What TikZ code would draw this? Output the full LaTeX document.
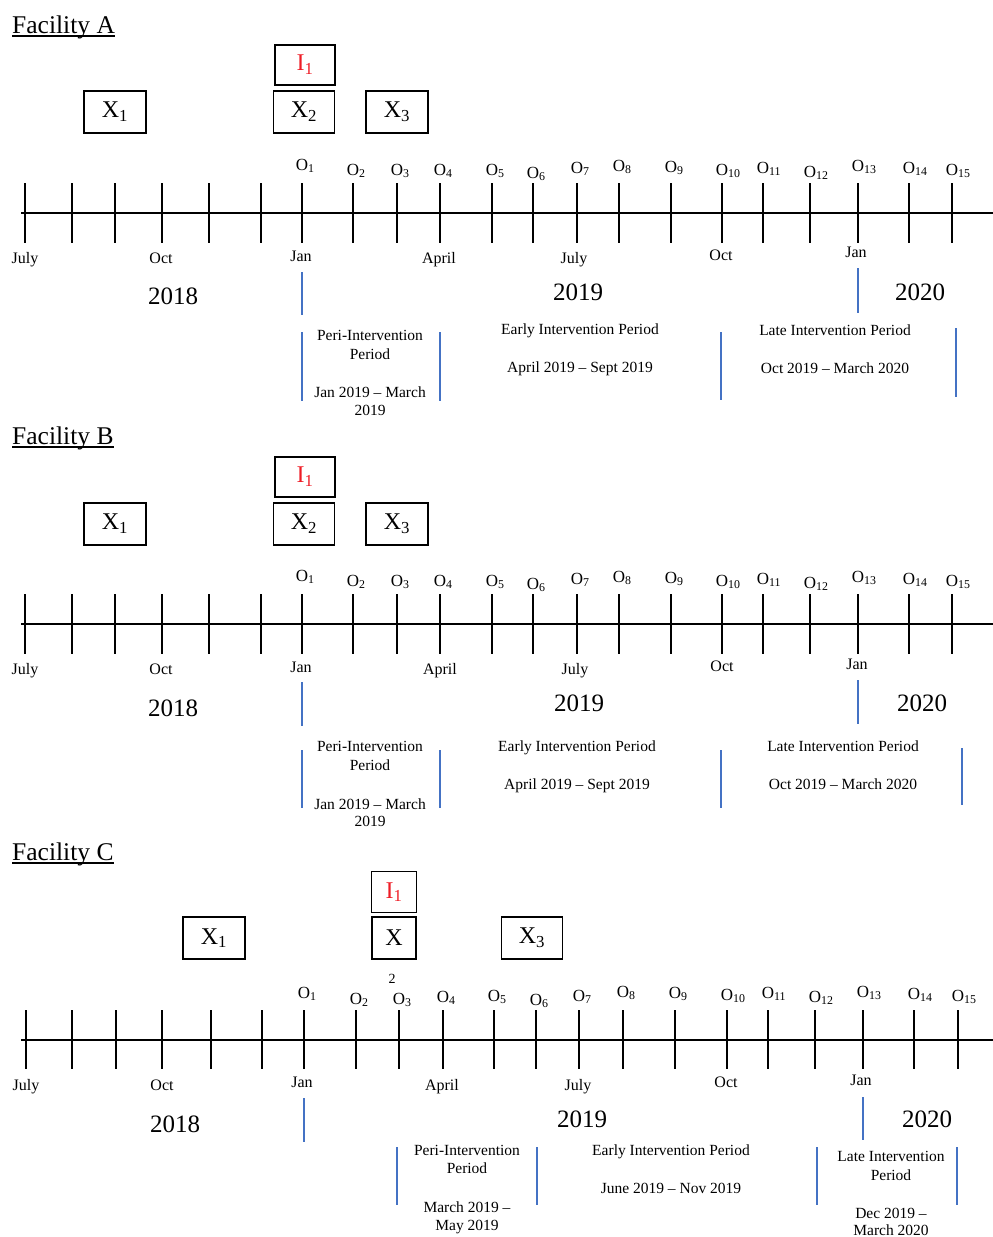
\documentclass[tikz,border=0pt]{standalone}
\usepackage{fontspec}
\setmainfont{Liberation Serif}
\usetikzlibrary{positioning}
\definecolor{perblue}{HTML}{4472C4}
\definecolor{ired}{HTML}{EE1C25}

\begin{document}
\begin{tikzpicture}[x=1pt,y=-1pt]
	\tikzset{
		axisline/.style={line width=1.3pt},
		tickmark/.style={line width=1.3pt},
		evbox/.style={draw, line width=1.4pt, minimum width=62pt, minimum height=42pt, inner sep=0pt, font=\fontsize{24}{28}\selectfont},
		obslbl/.style={anchor=base, inner sep=0pt, font=\fontsize{17}{19}\selectfont},
		monthlbl/.style={anchor=base, inner sep=0pt, font=\fontsize{16}{18}\selectfont},
		yearlbl/.style={anchor=base, inner sep=0pt, font=\fontsize{25}{28}\selectfont},
		periodtxt/.style={anchor=base, inner sep=0pt, font=\fontsize{15.5}{18}\selectfont},
		blueline/.style={perblue, line width=2.4pt},
		janline/.style={perblue, line width=1.2pt},
		facility/.style={anchor=base west, inner sep=0pt, font=\fontsize{25.5}{28}\selectfont},
		uline/.style={line width=1.6pt}
	}
	\useasboundingbox (0,0) rectangle (993,1237);

	% ---------- Facility A ----------
	\node [facility] (titA) at (12,33) {Facility A};
	\draw [uline] ([yshift=-3pt]titA.base west) -- ([yshift=-3pt]titA.base east);
	\node [evbox, minimum width=60pt, minimum height=40pt, text=ired] (iA) at (305,65) {I\textsubscript{1}};
	\node [evbox] (xoneA) at (115,112) {X\textsubscript{1}};
	\node [evbox, minimum width=61pt] (xtwoA) at (304,112) {X\textsubscript{2}};
	\node [evbox] (xthreeA) at (397,112) {X\textsubscript{3}};
	\draw [axisline] (21,213) -- (993,213);
	\foreach \x in {25,72,115,162,209,261,302,353,397,440,492,533,577,619,671,722,763,810,858,909,952}
		\draw [tickmark] (\x,183) -- (\x,243);
	\foreach \i/\x/\y in {1/302/170,2/353/175,3/397/175,4/440/175,5/492/175,6/533/178,7/577/173,8/619/171,9/671/172,10/722/175,11/763/173,12/810/177,13/858/171,14/909/173,15/952/175}
		\node [obslbl] (oA\i) at (\x,\y) {O\rlap{\textsubscript{\i}}};
	\node [monthlbl] (mA1) at (25,263) {July};
	\node [monthlbl] (mA2) at (161,263) {Oct};
	\node [monthlbl] (mA3) at (301,261) {Jan};
	\node [monthlbl] (mA4) at (439,263) {April};
	\node [monthlbl] (mA5) at (574,263) {July};
	\node [monthlbl] (mA6) at (721,260) {Oct};
	\node [monthlbl] (mA7) at (856,257) {Jan};
	\node [yearlbl] (yA1) at (173,304) {2018};
	\node [yearlbl] (yA2) at (578,300) {2019};
	\node [yearlbl] (yA3) at (920,300) {2020};
	\draw [janline] (302,272) -- (302,315);
	\draw [janline] (858,268) -- (858,313);
	\draw [blueline] (302,332) -- (302,401);
	\draw [blueline] (440,332) -- (440,401);
	\draw [blueline] (721,332) -- (721,400);
	\draw [blueline] (956,328) -- (956,397);
	\node [periodtxt] (pA1) at (370,340) {Peri-Intervention};
	\node [periodtxt] (pA2) at (370,359) {Period};
	\node [periodtxt] (pA3) at (370,397) {Jan 2019 -- March};
	\node [periodtxt] (pA4) at (370,415) {2019};
	\node [periodtxt] (eA1) at (580,334) {Early Intervention Period};
	\node [periodtxt] (eA2) at (580,372) {April 2019 -- Sept 2019};
	\node [periodtxt] (lA1) at (835,335) {Late Intervention Period};
	\node [periodtxt] (lA2) at (835,373) {Oct 2019 -- March 2020};

	% ---------- Facility B ----------
	\node [facility] (titB) at (12,444) {Facility B};
	\draw [uline] ([yshift=-3pt]titB.base west) -- ([yshift=-3pt]titB.base east);
	\node [evbox, minimum width=60pt, minimum height=40pt, text=ired] (iB) at (305,477) {I\textsubscript{1}};
	\node [evbox] (xoneB) at (115,524) {X\textsubscript{1}};
	\node [evbox, minimum width=61pt] (xtwoB) at (304,524) {X\textsubscript{2}};
	\node [evbox] (xthreeB) at (397,524) {X\textsubscript{3}};
	\draw [axisline] (21,624) -- (993,624);
	\foreach \x in {25,72,115,162,209,261,302,353,397,440,492,533,577,619,671,722,763,810,858,909,952}
		\draw [tickmark] (\x,594) -- (\x,654);
	\foreach \i/\x/\y in {1/302/581,2/353/586,3/397/586,4/440/586,5/492/586,6/533/589,7/577/584,8/619/582,9/671/583,10/722/586,11/763/584,12/810/588,13/858/582,14/909/584,15/952/586}
		\node [obslbl] (oB\i) at (\x,\y) {O\rlap{\textsubscript{\i}}};
	\node [monthlbl] (mB1) at (25,674) {July};
	\node [monthlbl] (mB2) at (161,674) {Oct};
	\node [monthlbl] (mB3) at (301,672) {Jan};
	\node [monthlbl] (mB4) at (440,674) {April};
	\node [monthlbl] (mB5) at (575,674) {July};
	\node [monthlbl] (mB6) at (722,671) {Oct};
	\node [monthlbl] (mB7) at (857,669) {Jan};
	\node [yearlbl] (yB1) at (173,716) {2018};
	\node [yearlbl] (yB2) at (579,711) {2019};
	\node [yearlbl] (yB3) at (922,711) {2020};
	\draw [janline] (302,682) -- (302,726);
	\draw [janline] (858,680) -- (858,724);
	\draw [blueline] (302,750) -- (302,808);
	\draw [blueline] (440,750) -- (440,808);
	\draw [blueline] (721,750) -- (721,808);
	\draw [blueline] (962,748) -- (962,805);
	\node [periodtxt] (pB1) at (370,751) {Peri-Intervention};
	\node [periodtxt] (pB2) at (370,770) {Period};
	\node [periodtxt] (pB3) at (370,809) {Jan 2019 -- March};
	\node [periodtxt] (pB4) at (370,826) {2019};
	\node [periodtxt] (eB1) at (577,751) {Early Intervention Period};
	\node [periodtxt] (eB2) at (577,789) {April 2019 -- Sept 2019};
	\node [periodtxt] (lB1) at (843,751) {Late Intervention Period};
	\node [periodtxt] (lB2) at (843,789) {Oct 2019 -- March 2020};

	% ---------- Facility C ----------
	\node [facility] (titC) at (12,860) {Facility C};
	\draw [uline] ([yshift=-3pt]titC.base west) -- ([yshift=-3pt]titC.base east);
	\node [evbox, minimum width=45pt, minimum height=41pt, text=ired] (iC) at (394,892) {I\textsubscript{1}};
	\node [evbox] (xoneC) at (214,938) {X\textsubscript{1}};
	\node [evbox, minimum width=44pt] (xtwoC) at (394,938) {X};
	\node [periodtxt, font=\fontsize{14}{16}\selectfont] (twoC) at (392,983) {2};
	\node [evbox, minimum width=61pt] (xthreeC) at (532,938) {X\textsubscript{3}};
	\draw [axisline] (21,1040) -- (993,1040);
	\foreach \x in {26,72,116,162,211,262,304,356,399,443,494,536,579,623,675,727,768,815,863,914,958}
		\draw [tickmark] (\x,1010) -- (\x,1069);
	\foreach \i/\x/\y in {1/304/998,2/356/1004,3/399/1004,4/443/1002,5/494/1001,6/536/1005,7/579/1001,8/623/997,9/675/998,10/727/1000,11/768/998,12/815/1002,13/863/997,14/914/999,15/958/1001}
		\node [obslbl] (oC\i) at (\x,\y) {O\rlap{\textsubscript{\i}}};
	\node [monthlbl] (mC1) at (26,1090) {July};
	\node [monthlbl] (mC2) at (162,1090) {Oct};
	\node [monthlbl] (mC3) at (302,1087) {Jan};
	\node [monthlbl] (mC4) at (442,1090) {April};
	\node [monthlbl] (mC5) at (578,1090) {July};
	\node [monthlbl] (mC6) at (726,1087) {Oct};
	\node [monthlbl] (mC7) at (861,1085) {Jan};
	\node [yearlbl] (yC1) at (175,1132) {2018};
	\node [yearlbl] (yC2) at (582,1127) {2019};
	\node [yearlbl] (yC3) at (927,1127) {2020};
	\draw [janline] (304,1098) -- (304,1142);
	\draw [janline] (863,1097) -- (863,1140);
	\draw [blueline] (397,1147) -- (397,1205);
	\draw [blueline] (537,1147) -- (537,1205);
	\draw [blueline] (817,1147) -- (817,1205);
	\draw [blueline] (957,1147) -- (957,1205);
	\node [periodtxt] (pC1) at (467,1155) {Peri-Intervention};
	\node [periodtxt] (pC2) at (467,1173) {Period};
	\node [periodtxt] (pC3) at (467,1212) {March 2019 --};
	\node [periodtxt] (pC4) at (467,1230) {May 2019};
	\node [periodtxt] (eC1) at (671,1155) {Early Intervention Period};
	\node [periodtxt] (eC2) at (671,1193) {June 2019 -- Nov 2019};
	\node [periodtxt] (lC1) at (891,1161) {Late Intervention};
	\node [periodtxt] (lC2) at (891,1180) {Period};
	\node [periodtxt] (lC3) at (891,1218) {Dec 2019 --};
	\node [periodtxt] (lC4) at (891,1235) {March 2020};
\end{tikzpicture}
\end{document}
